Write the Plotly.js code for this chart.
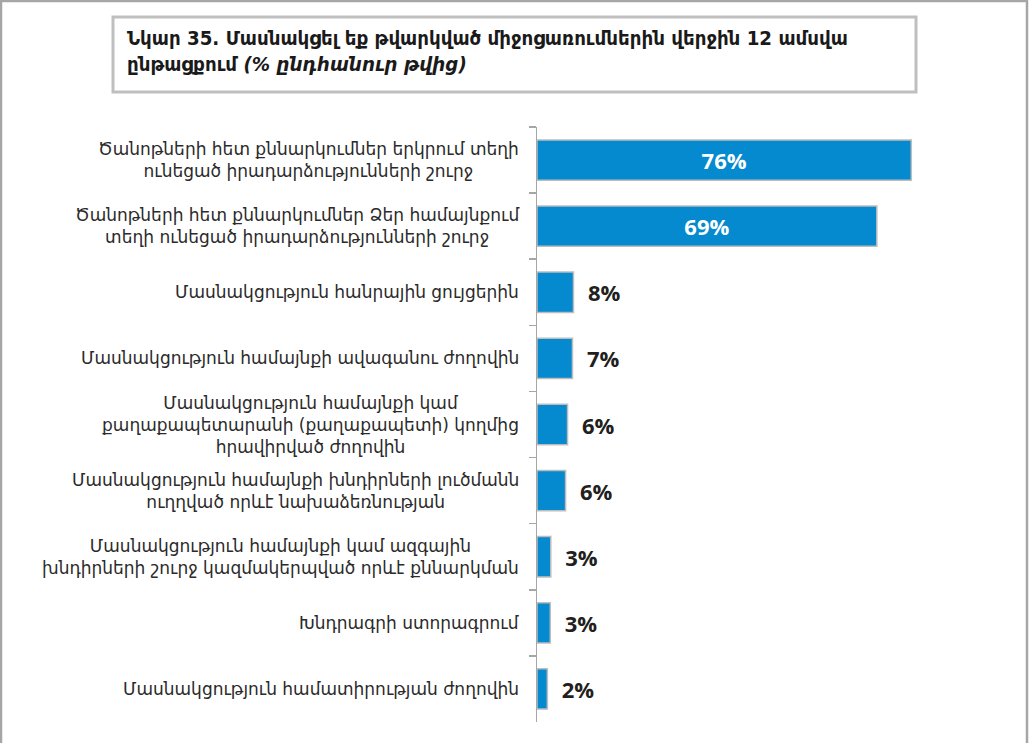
<!DOCTYPE html>
<html>
<head>
<meta charset="utf-8">
<script src="https://cdn.plot.ly/plotly-3.0.1.min.js"></script>
<style>
  html, body { margin: 0; padding: 0; background: #fff; }
  #chart { width: 1029px; height: 743px; }
</style>
</head>
<body>
<div id="chart"></div>
<script>
const categories = [
  "Ծանոթների հետ քննարկումներ երկրում տեղի<br>ունեցած իրադարձությունների շուրջ",
  "Ծանոթների հետ քննարկումներ Ձեր համայնքում<br>տեղի ունեցած իրադարձությունների շուրջ",
  "Մասնակցություն հանրային ցույցերին",
  "Մասնակցություն համայնքի ավագանու ժողովին",
  "Մասնակցություն համայնքի կամ<br>քաղաքապետարանի (քաղաքապետի) կողմից<br>հրավիրված ժողովին",
  "Մասնակցություն համայնքի խնդիրների լուծմանն<br>ուղղված որևէ նախաձեռնության",
  "Մասնակցություն համայնքի կամ ազգային<br>խնդիրների շուրջ կազմակերպված որևէ քննարկման",
  "Խնդրագրի ստորագրում",
  "Մասնակցություն համատիրության ժողովին"
];
const values = [76, 69, 7.4, 7.2, 6.2, 5.8, 2.8, 2.7, 2.1];
const valueLabels = ["76%", "69%", "8%", "7%", "6%", "6%", "3%", "3%", "2%"];
const titleLine1 = "Նկար 35. Մասնակցել եք թվարկված միջոցառումներին վերջին 12 ամսվա";
const titleLine2 = "ընթացքում";
const titleItalic = "(% ընդհանուր թվից)";

// layout geometry
const W = 1029, H = 743;
const L = 537, R = 98, T = 127, B = 21;
const pw = W - L - R, ph = H - T - B;
const px = v => (v - L) / pw;
const py = v => (H - B - v) / ph;

const isInside = values.map(v => v > 20);
const texts = valueLabels.map((l, i) => isInside[i] ? l : "\u00a0\u00a0" + l);

const trace = {
  type: "bar",
  orientation: "h",
  x: values,
  y: categories,
  marker: { color: "#0589CF", line: { color: "#BDBDBD", width: 1.5 } },
  text: texts,
  textposition: isInside.map(b => b ? "inside" : "outside"),
  insidetextanchor: "middle",
  textangle: 0,
  insidetextfont: { family: "Open Sans", size: 22, color: "#ffffff", weight: 700 },
  outsidetextfont: { family: "Open Sans", size: 22, color: "#231F20", weight: 700 },
  cliponaxis: false,
  hoverinfo: "none"
};

const annotations = categories.map(c => ({
  xref: "paper", yref: "y",
  x: 0, y: c,
  xanchor: "right", yanchor: "middle",
  xshift: -16,
  text: c,
  align: "center",
  showarrow: false,
  font: { family: "DejaVu Sans", size: 17, color: "#2b2b2b" }
}));

annotations.push({
  xref: "paper", yref: "paper",
  x: px(125), y: py(24),
  xanchor: "left", yanchor: "top",
  align: "left",
  showarrow: false,
  text: "<b>" + titleLine1 + "<br>" + titleLine2 + " <i>" + titleItalic + "</i></b>",
  font: { family: "DejaVu Sans Condensed", size: 20.3, color: "#1a1a1a" }
});

const shapes = [
  { type: "rect", xref: "paper", yref: "paper",
    x0: px(113), x1: px(916), y0: py(92), y1: py(17),
    line: { color: "#BFBFBF", width: 3 }, fillcolor: "rgba(0,0,0,0)" },
  { type: "rect", xref: "paper", yref: "paper",
    x0: px(1), x1: px(1027), y0: py(770), y1: py(1),
    line: { color: "#A6A6A6", width: 2.5 }, fillcolor: "rgba(0,0,0,0)" }
];

const layout = {
  width: W, height: H,
  margin: { l: L, r: R, t: T, b: B, pad: 0 },
  paper_bgcolor: "#ffffff",
  plot_bgcolor: "#ffffff",
  showlegend: false,
  bargap: 0.39,
  xaxis: { range: [0, 80], visible: false, fixedrange: true },
  yaxis: {
    type: "category",
    autorange: "reversed",
    showticklabels: false,
    showgrid: false,
    zeroline: false,
    showline: true,
    linecolor: "#A6A6A6",
    linewidth: 1.5,
    ticks: "outside",
    tickson: "boundaries",
    ticklen: 7,
    tickwidth: 1.5,
    tickcolor: "#A6A6A6",
    fixedrange: true
  },
  annotations: annotations,
  shapes: shapes,
  font: { family: "DejaVu Sans" }
};

Plotly.newPlot("chart", [trace], layout, { staticPlot: true, displayModeBar: false });
</script>
</body>
</html>
